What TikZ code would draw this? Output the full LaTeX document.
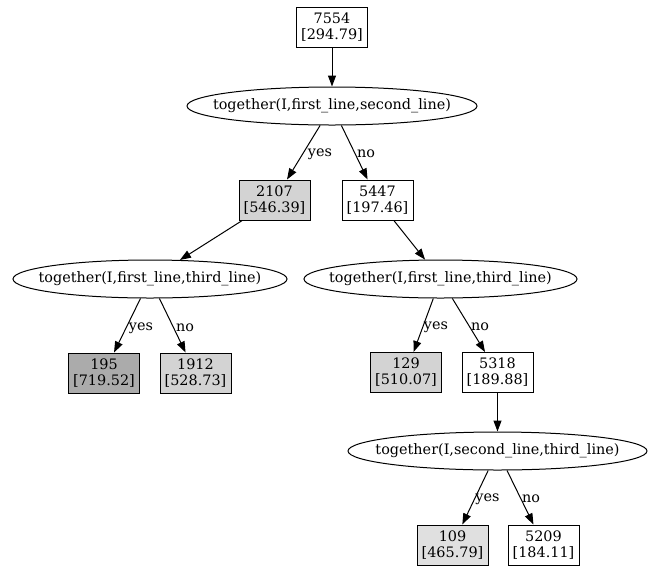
\documentclass[tikz,border=0pt]{standalone}
\usepackage{fontspec}
\setmainfont{DejaVu Serif}
\usetikzlibrary{shapes.geometric,arrows.meta}

\definecolor{leafdark}{HTML}{ABABAB}
\definecolor{leafmid}{HTML}{D3D3D3}
\definecolor{leaflight}{HTML}{E0E0E0}

\tikzset{
  base/.style={font=\fontsize{14.4}{16}\selectfont},
  countbox/.style={base, draw=black, line width=1pt, rectangle, align=center,
    minimum width=71, minimum height=40, inner sep=0pt},
  testnode/.style={base, draw=black, line width=1pt, ellipse, inner sep=0pt,
    minimum height=38},
  branch/.style={draw=black, line width=1pt, -{Triangle[length=11pt,width=8pt]}},
  edgelabel/.style={base, inner sep=0pt}
}

\newcommand{\testtext}[1]{\makebox[0pt]{#1}}

\begin{document}
\begin{tikzpicture}[x=1pt,y=-1pt]
  \useasboundingbox (0,0) rectangle (657,566);

  % count / score boxes
  \node[countbox] (root) at (332,27) {7554\\{}[294.79]};
  \node[countbox, fill=leafmid] (n2107) at (274.5,200) {2107\\{}[546.39]};
  \node[countbox] (n5447) at (377.5,200) {5447\\{}[197.46]};
  \node[countbox, fill=leafdark] (n195) at (104,373) {195\\{}[719.52]};
  \node[countbox, fill=leafmid] (n1912) at (195.5,373) {1912\\{}[528.73]};
  \node[countbox, fill=leafmid] (n129) at (406,372.5) {129\\{}[510.07]};
  \node[countbox] (n5318) at (497.5,372.5) {5318\\{}[189.88]};
  \node[countbox, fill=leaflight] (n109) at (452.5,545) {109\\{}[465.79]};
  \node[countbox] (n5209) at (543.5,545) {5209\\{}[184.11]};

  % tests
  \node[testnode, minimum width=290] (t1) at (332,106)
    {\testtext{together(I,first\_line,second\_line)}};
  \node[testnode, minimum width=274] (t2) at (150,279)
    {\testtext{together(I,first\_line,third\_line)}};
  \node[testnode, minimum width=273] (t3) at (440.5,279)
    {\testtext{together(I,first\_line,third\_line)}};
  \node[testnode, minimum width=299] (t4) at (497.5,451)
    {\testtext{together(I,second\_line,third\_line)}};

  % branches
  \draw[branch] (root) -- (t1);
  \draw[branch] (t1) -- (n2107);
  \draw[branch] (t1) -- (n5447);
  \draw[branch] (n2107) -- (t2);
  \draw[branch] (n5447) -- (t3);
  \draw[branch] (t2) -- (n195);
  \draw[branch] (t2) -- (n1912);
  \draw[branch] (t3) -- (n129);
  \draw[branch] (t3) -- (n5318);
  \draw[branch] (n5318) -- (t4);
  \draw[branch] (t4) -- (n109);
  \draw[branch] (t4) -- (n5209);

  % branch labels
  \node[edgelabel] (y1) at (320,154) {yes};
  \node[edgelabel] (o1) at (366,154) {no};
  \node[edgelabel] (y2) at (141,328) {yes};
  \node[edgelabel] (o2) at (185,328) {no};
  \node[edgelabel] (y3) at (436,327) {yes};
  \node[edgelabel] (o3) at (480,327) {no};
  \node[edgelabel] (y4) at (487.5,499) {yes};
  \node[edgelabel] (o4) at (531,499) {no};
\end{tikzpicture}
\end{document}
